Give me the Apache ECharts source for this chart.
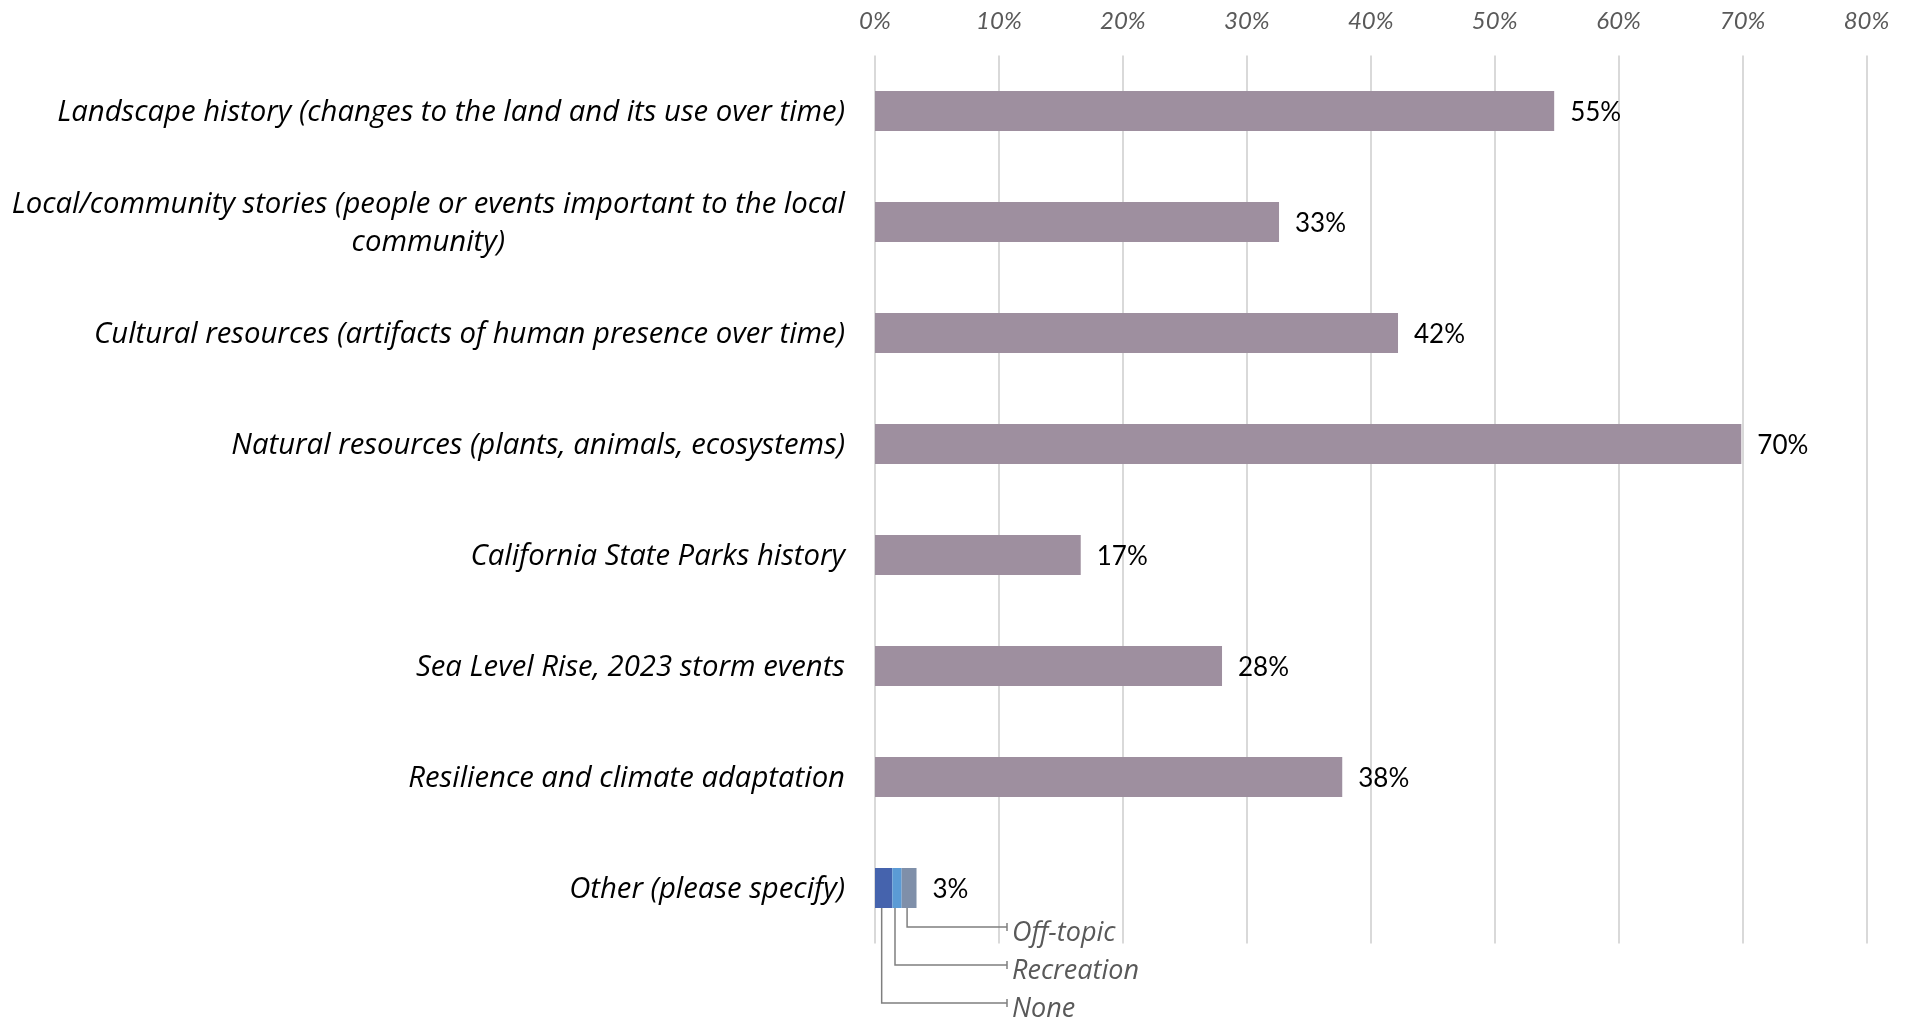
<!DOCTYPE html>
<html>
<head>
<meta charset="utf-8">
<style>
  html, body { margin: 0; padding: 0; background: #ffffff; }
  #chart { width: 1914px; height: 1021px; }
</style>
<script src="https://cdn.jsdelivr.net/npm/echarts@6/dist/echarts.min.js"></script>
</head>
<body>
<div id="chart"></div>
<script>
// ---- data ----
const categories = [
  'Landscape history (changes to the land and its use over time)',
  'Local/community stories (people or events important to the local\ncommunity)',
  'Cultural resources (artifacts of human presence over time)',
  'Natural resources (plants, animals, ecosystems)',
  'California State Parks history',
  'Sea Level Rise, 2023 storm events',
  'Resilience and climate adaptation',
  'Other (please specify)'
];
const mainValues = [54.8, 32.6, 42.2, 69.9, 16.6, 28.0, 37.7, null];
const otherNames = ['None', 'Recreation', 'Off-topic'];
const otherValues = [1.4, 0.75, 1.2];
const tickLabels = ['0%', '10%', '20%', '30%', '40%', '50%', '60%', '70%', '80%'];

// ---- styles ----
const CAT_FONT = 'Open Sans';
const NUM_FONT = 'Lato';
const otherColors = ['#4563ad', '#5b9bd5', '#7f8fa9'];
const lastIdx = categories.length - 1;

const otherSeries = otherNames.map((name, i) => {
  const data = categories.map((c, j) => (j === lastIdx ? otherValues[i] : null));
  const s = {
    name: name,
    type: 'bar',
    stack: 'total',
    barWidth: 40,
    data: data,
    itemStyle: { color: otherColors[i] },
    animation: false
  };
  if (i === otherNames.length - 1) {
    const total = otherValues.reduce((a, b) => a + b, 0);
    s.label = {
      show: true, position: 'right', distance: 16, offset: [0, 2],
      fontFamily: NUM_FONT, fontSize: 26, color: '#000',
      formatter: () => Math.round(total) + '%'
    };
  }
  return s;
});

// annotation data: midpoint of each segment, drop level
let cum = 0;
const annData = otherNames.map((name, i) => {
  const mid = cum + otherValues[i] / 2;
  cum += otherValues[i];
  return { value: [mid, lastIdx, otherNames.length - 1 - i], name: name };
});

const chart = echarts.init(document.getElementById('chart'), null, { renderer: 'canvas' });
chart.setOption({
  backgroundColor: '#ffffff',
  animation: false,
  grid: { left: 875, right: 47.5, top: 55.5, bottom: 77.5, containLabel: false },
  xAxis: {
    type: 'value', position: 'top', min: 0, max: 80, interval: 10,
    axisLine: { show: false }, axisTick: { show: false },
    splitLine: { show: true, lineStyle: { color: '#d9d9d9', width: 2 } },
    axisLabel: {
      margin: 22, fontFamily: NUM_FONT, fontStyle: 'italic', fontSize: 24, color: '#595959',
      formatter: (v) => tickLabels[Math.round(v / 10)]
    }
  },
  yAxis: {
    type: 'category', inverse: true, data: categories,
    axisLine: { show: false }, axisTick: { show: false },
    axisLabel: {
      margin: 30, align: 'right', interval: 0, padding: [4, 0, 0, 0],
      formatter: (v) => v.split('\n').map(l => '{c|' + l + '}').join('\n'),
      rich: { c: { align: 'center', fontFamily: CAT_FONT, fontStyle: 'italic', fontSize: 29.3, color: '#000', lineHeight: 38 } }
    }
  },
  series: [
    {
      name: 'Share', type: 'bar', stack: 'total', barWidth: 40,
      data: mainValues,
      itemStyle: { color: '#9e8f9f' },
      label: {
        show: true, position: 'right', distance: 16, offset: [0, 2],
        fontFamily: NUM_FONT, fontSize: 26, color: '#000',
        formatter: (p) => Math.round(p.value) + '%'
      }
    },
    ...otherSeries,
    {
      type: 'custom',
      clip: false,
      silent: true,
      data: annData,
      encode: { x: 0, y: 1 },
      renderItem: function (params, api) {
        const p = api.coord([api.value(0), api.value(1)]);
        const x0 = p[0] - 2;
        const yBottom = p[1] + 20;
        const level = api.value(2);
        const yEnd = yBottom + 19 + level * 38;
        const xEnd = api.coord([0, api.value(1)])[0] + 132;
        const name = annData[params.dataIndex].name;
        return {
          type: 'group',
          children: [
            { type: 'polyline', shape: { points: [[x0, yBottom], [x0, yEnd], [xEnd, yEnd]] },
              style: { stroke: '#7f7f7f', lineWidth: 1.5, fill: null } },
            { type: 'line', shape: { x1: xEnd, y1: yEnd - 4, x2: xEnd, y2: yEnd + 4 },
              style: { stroke: '#7f7f7f', lineWidth: 1.5 } },
            { type: 'text', x: xEnd + 5, y: yEnd + 6,
              style: { text: name, fontFamily: CAT_FONT, fontStyle: 'italic', fontSize: 27, fill: '#595959',
                       textAlign: 'left', textVerticalAlign: 'middle' } }
          ]
        };
      }
    }
  ]
});
</script>
</body>
</html>
